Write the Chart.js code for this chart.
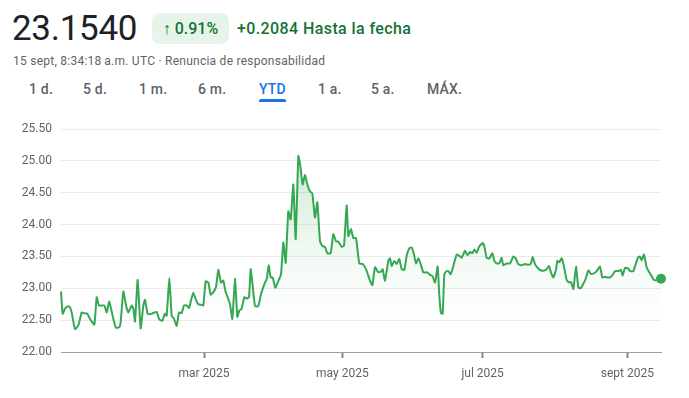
<!DOCTYPE html>
<html lang="es">
<head>
<meta charset="utf-8">
<script src="https://cdn.jsdelivr.net/npm/chart.js@4/dist/chart.umd.min.js"></script>
<style>
  body { margin: 0; width: 689px; height: 398px; background: #fff; font-family: Roboto, Arial, sans-serif; position: relative; overflow: hidden; }
  .precio { position: absolute; left: 12px; top: 8px; font-size: 35px; color: #202124; letter-spacing: -0.3px; }
  .badge { position: absolute; left: 152px; top: 13px; width: 77px; height: 31px; background: #e6f4ea; border-radius: 8px; color: #137333; font-size: 16px; font-weight: 500; line-height: 31px; text-align: center; }
  .cambio { position: absolute; left: 237px; top: 19px; font-size: 16px; font-weight: 500; color: #137333; letter-spacing: 0.4px; }
  .sub { position: absolute; left: 13px; top: 54px; font-size: 12px; color: #5f6368; letter-spacing: 0.25px; }
  .tab { position: absolute; top: 81px; font-size: 14px; font-weight: 500; color: #5f6368; letter-spacing: 0.2px; }
  .tab.on { color: #1a73e8; }
  .tab.on::after { content: ""; position: absolute; left: 0; right: 0; top: 18px; height: 3px; background: #1a73e8; border-radius: 2px 2px 0 0; }
  #wrap { position: absolute; left: 0; top: 110px; width: 689px; height: 288px; }
</style>
</head>
<body>
<div class="precio">23.1540</div>
<div class="badge">&#8593; 0.91%</div>
<div class="cambio">+0.2084 Hasta la fecha</div>
<div class="sub">15 sept, 8:34:18&#8201;a.m. UTC · Renuncia de responsabilidad</div>
<div class="tab" style="left:29px">1 d.</div>
<div class="tab" style="left:83px">5 d.</div>
<div class="tab" style="left:139px">1 m.</div>
<div class="tab" style="left:198px">6 m.</div>
<div class="tab on" style="left:259px">YTD</div>
<div class="tab" style="left:318px">1 a.</div>
<div class="tab" style="left:371px">5 a.</div>
<div class="tab" style="left:427px">MÁX.</div>
<div id="wrap"><canvas id="grafico"></canvas></div>
<script>
// posicion en el tiempo (unidad arbitraria, 0 = 1 ene, 1800 = 15 sept)
const sesion = [0,5,12,22,27,32,42,52,62,67,79,87,100,107,114,130,137,145,157,165,175,179,187,195,202,212,217,222,230,239,247,252,260,272,287,295,304,312,317,325,332,339,347,354,362,369,377,384,390,397,404,412,422,427,434,442,449,457,465,472,480,487,494,502,507,514,522,529,535,542,550,557,564,569,574,582,592,600,612,617,623,629,635,643,650,660,667,674,682,689,697,704,712,717,725,732,739,747,754,762,769,777,785,792,799,809,817,825,832,842,849,857,
  862,870,877,885,895,905,915,927,934,942,952,962,965,972,982,987,992,1000,1007,1015,1022,1030,1037,1045,1052,1059,1065,1072,1079,1087,1099,1107,1115,1122,1130,1135,1140,1145,1150,1157,1162,1169,1177,1187,1195,1202,1212,1219,1227,1234,1240,1247,1255,1265,1270,1277,1285,1294,1300,1307,1315,1322,1327,1337,1347,1357,1364,1372,1382,1392,1402,1409,1415,1422,1432,1440,1449,1457,1464,1470,1477,1485,1489,1495,1502,1509,1517,1525,1530,1537,1545,1552,1559,1567,1574,1582,1589,1597,1607,1617,1624,1632,1640,1647,1655,1662,1672,1680,1685,1692,1702,1707,1717,1724,1732,1737,1742,1749,1757,1765,1772,1779,1789,1800];
const cotizacion = [22.95,22.60,22.68,22.72,22.70,22.62,22.36,22.42,22.62,22.61,22.60,22.52,22.43,22.86,22.73,22.73,22.62,22.79,22.52,22.38,22.39,22.47,22.95,22.73,22.62,22.73,22.68,22.48,23.13,22.37,22.73,22.82,22.60,22.60,22.63,22.51,22.49,22.60,22.57,23.16,22.57,22.52,22.41,22.62,22.61,22.73,22.73,22.69,22.81,22.93,22.83,22.75,22.74,22.73,23.11,23.09,22.90,22.94,23.02,23.29,23.09,23.12,22.94,22.83,22.75,22.52,23.15,22.55,22.65,22.68,22.86,22.84,22.86,23.30,23.09,22.72,22.72,22.91,23.09,23.14,23.36,23.17,23.17,23.01,23.09,23.22,23.72,23.40,24.21,24.08,24.63,23.77,25.08,24.96,24.63,24.78,24.63,24.52,24.49,24.11,24.35,23.74,23.66,23.65,23.55,23.55,23.85,23.74,23.73,23.65,23.67,24.30,
  23.82,23.93,23.79,23.79,23.39,23.38,23.30,23.12,23.05,23.33,23.25,23.27,23.30,23.12,23.43,23.47,23.35,23.43,23.38,23.46,23.30,23.29,23.51,23.63,23.64,23.53,23.39,23.47,23.38,23.25,23.25,23.21,23.19,23.09,23.34,22.88,22.61,22.60,23.22,23.27,23.27,23.22,23.35,23.53,23.51,23.48,23.59,23.52,23.57,23.55,23.61,23.56,23.66,23.71,23.66,23.48,23.47,23.55,23.43,23.39,23.39,23.48,23.36,23.39,23.39,23.50,23.47,23.38,23.36,23.38,23.37,23.38,23.49,23.38,23.31,23.28,23.28,23.30,23.35,23.25,23.17,23.29,23.43,23.41,23.47,23.34,23.13,23.09,23.10,22.99,23.34,23.01,23.00,23.07,23.15,23.28,23.23,23.23,23.27,23.34,23.17,23.18,23.17,23.17,23.21,23.27,23.27,23.29,23.20,23.32,23.31,23.27,23.27,23.38,23.49,23.50,23.44,23.53,23.33,23.25,23.19,23.13,23.13,23.15];

const marcasMes = [429, 844, 1265, 1699];
const etiquetasMes = ["mar 2025", "may 2025", "jul 2025", "sept 2025"];
const valoresY = [22.00, 22.50, 23.00, 23.50, 24.00, 24.50, 25.00, 25.50];

const verde = "#34a853";
const puntos = sesion.map((s, i) => ({ x: s, y: cotizacion[i] }));
const ultimo = puntos.length - 1;

const ctx = document.getElementById("grafico").getContext("2d");
new Chart(ctx, {
  type: "line",
  data: {
    datasets: [{
      data: puntos,
      borderColor: verde,
      borderWidth: 2,
      tension: 0.15,
      borderJoinStyle: "round",
      clip: false,
      fill: "start",
      backgroundColor: c => {
        const area = c.chart.chartArea;
        if (!area) return "rgba(52,168,83,0.1)";
        const g = c.chart.ctx.createLinearGradient(0, area.top, 0, area.bottom);
        g.addColorStop(0, "rgba(52,168,83,0.28)");
        g.addColorStop(0.55, "rgba(52,168,83,0.07)");
        g.addColorStop(0.85, "rgba(52,168,83,0)");
        return g;
      },
      pointRadius: c => c.dataIndex === ultimo ? 5 : 0,
      pointHoverRadius: 0,
      pointBackgroundColor: verde,
      pointBorderColor: verde,
      pointBorderWidth: 0
    }]
  },
  options: {
    responsive: true,
    maintainAspectRatio: false,
    animation: false,
    layout: { padding: { left: 0, right: 28, top: 19, bottom: 0 } },
    plugins: { legend: { display: false }, tooltip: { enabled: false } },
    scales: {
      x: {
        type: "linear",
        min: 0,
        max: 1800,
        afterBuildTicks: s => { s.ticks = marcasMes.map(v => ({ value: v })); },
        afterFit: s => { s.height = 46; },
        ticks: {
          autoSkip: false,
          maxRotation: 0,
          padding: 9,
          color: "#5f6368",
          font: { family: "Roboto", size: 12 },
          callback: (v, i) => etiquetasMes[i]
        },
        grid: { drawOnChartArea: false, drawTicks: true, tickLength: 6, tickWidth: 2, tickColor: "#80868b" },
        border: { display: true, color: "#9aa0a6", width: 1 }
      },
      y: {
        min: 22,
        max: 25.5,
        afterBuildTicks: s => { s.ticks = valoresY.map(v => ({ value: v })); },
        afterFit: s => { s.width = 61; },
        ticks: {
          padding: 9,
          color: "#5f6368",
          font: { family: "Roboto", size: 12 },
          callback: v => v.toFixed(2)
        },
        grid: { drawTicks: false, color: c => c.tick && c.tick.value === 22 ? "rgba(0,0,0,0)" : "#ebebeb" },
        border: { display: false }
      }
    }
  }
});
</script>
</body>
</html>
